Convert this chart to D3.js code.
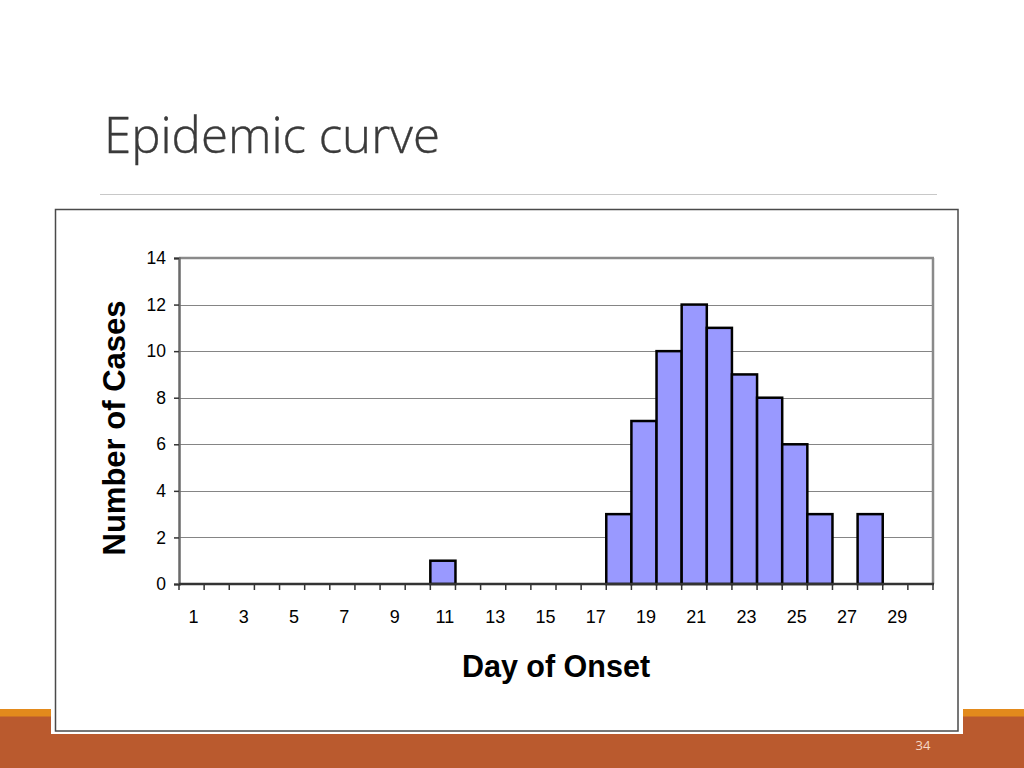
<!DOCTYPE html>
<html>
<head>
<meta charset="utf-8">
<script src="https://cdn.jsdelivr.net/npm/d3@7/dist/d3.min.js"></script>
<style>
  html, body { margin: 0; padding: 0; background: #ffffff; }
  svg { display: block; }
</style>
</head>
<body>
<script>
// ---- data ----
const days = d3.range(1, 31);
const cases = [0,0,0,0,0,0,0,0,0,0,1,0,0,0,0,0,0,3,7,10,12,11,9,8,6,3,0,3,0,0];
const yTicks = [0, 2, 4, 6, 8, 10, 12, 14];
const xLabelDays = [1,3,5,7,9,11,13,15,17,19,21,23,25,27,29];
const slideTitle = "Epidemic curve";
const xTitle = "Day of Onset";
const yTitle = "Number of Cases";
const pageNumber = "34";

const W = 1024, H = 768;
const svg = d3.select("body").append("svg").attr("width", W).attr("height", H);

// slide background bands
svg.append("rect").attr("x", 0).attr("y", 709).attr("width", W).attr("height", 8).attr("fill", "#E38A1C");
svg.append("rect").attr("x", 0).attr("y", 716.5).attr("width", W).attr("height", H - 716.5).attr("fill", "#BA5A2E");

// title
const title = svg.append("text").attr("x", 104).attr("y", 153)
  .attr("font-family", "'Open Sans', sans-serif").attr("font-weight", 300)
  .attr("font-size", 46).attr("fill", "#3a3a3a").attr("stroke", "#3a3a3a").attr("stroke-width", 0.4)
  .text(slideTitle);
const tl = title.node().getComputedTextLength();
title.attr("font-size", 46 * 336 / tl);

svg.append("line").attr("x1", 100).attr("x2", 937).attr("y1", 194.5).attr("y2", 194.5)
  .attr("stroke", "#c8c8c8").attr("stroke-width", 1);

svg.append("text").attr("x", 923).attr("y", 750).attr("text-anchor", "middle")
  .attr("font-family", "'Open Sans', sans-serif").attr("font-size", 13)
  .attr("fill", "#F6D9C6").text(pageNumber);

// picture box
svg.append("rect").attr("x", 51).attr("y", 205).attr("width", 912).attr("height", 529).attr("fill", "#ffffff");
svg.append("rect").attr("x", 55.5).attr("y", 209.5).attr("width", 902.5).attr("height", 521.5)
  .attr("fill", "none").attr("stroke", "#4a4a4a").attr("stroke-width", 1.5);

// scales
const x = d3.scaleBand().domain(days).range([179, 933]).padding(0);
const y = d3.scaleLinear().domain([0, 14]).range([584, 258]);

// gridlines
svg.append("g").selectAll("line").data(yTicks.filter(t => t > 0 && t < 14)).join("line")
  .attr("x1", 179).attr("x2", 933)
  .attr("y1", d => Math.round(y(d)) + 0.5).attr("y2", d => Math.round(y(d)) + 0.5)
  .attr("stroke", "#858585").attr("stroke-width", 1.2);

// plot border top & right
svg.append("line").attr("x1", 179).attr("x2", 934).attr("y1", y(14)).attr("y2", y(14))
  .attr("stroke", "#8a8a8a").attr("stroke-width", 2.5);
svg.append("line").attr("x1", 933).attr("x2", 933).attr("y1", y(14)).attr("y2", y(0))
  .attr("stroke", "#8a8a8a").attr("stroke-width", 2.5);

// bars
svg.append("g").selectAll("rect").data(days.map((d, i) => ({day: d, v: cases[i]})).filter(d => d.v > 0)).join("rect")
  .attr("x", d => x(d.day)).attr("width", x.bandwidth())
  .attr("y", d => y(d.v)).attr("height", d => y(0) - y(d.v))
  .attr("fill", "#9999FF").attr("stroke", "#000000").attr("stroke-width", 2.5);

// y axis
const yAxis = d3.axisLeft(y).tickValues(yTicks).tickSize(5).tickPadding(8);
const gy = svg.append("g").attr("transform", "translate(179,0)").call(yAxis);
gy.select(".domain").attr("stroke", "#6a6a6a").attr("stroke-width", 2.5);
gy.selectAll(".tick line").attr("stroke", "#333").attr("stroke-width", 1.5);
gy.selectAll(".tick text").attr("font-family", "'Liberation Sans', Arial, sans-serif")
  .attr("font-size", 17.5).attr("fill", "#000");

// x axis baseline and ticks at bin boundaries
const edges = days.map(d => x(d)).concat([x(days[days.length - 1]) + x.bandwidth()]);
svg.append("line").attr("x1", 179).attr("x2", 934).attr("y1", y(0)).attr("y2", y(0))
  .attr("stroke", "#333").attr("stroke-width", 2.5);
svg.append("g").selectAll("line").data(edges).join("line")
  .attr("x1", d => d).attr("x2", d => d).attr("y1", y(0)).attr("y2", y(0) + 6)
  .attr("stroke", "#333").attr("stroke-width", 1.5);
svg.append("g").selectAll("text").data(xLabelDays).join("text")
  .attr("x", d => x(d) + x.bandwidth() / 2 + 2).attr("y", 623)
  .attr("text-anchor", "middle")
  .attr("font-family", "'Liberation Sans', Arial, sans-serif").attr("font-size", 18)
  .attr("fill", "#000").text(d => d);

// axis titles
svg.append("text").attr("x", 556).attr("y", 677).attr("text-anchor", "middle")
  .attr("font-family", "'Liberation Sans', Arial, sans-serif").attr("font-weight", "bold")
  .attr("font-size", 30.5).attr("fill", "#000").text(xTitle);
svg.append("text").attr("transform", "translate(125,428) rotate(-90)").attr("text-anchor", "middle")
  .attr("font-family", "'Liberation Sans', Arial, sans-serif").attr("font-weight", "bold")
  .attr("font-size", 31).attr("fill", "#000").text(yTitle);
</script>
</body>
</html>
